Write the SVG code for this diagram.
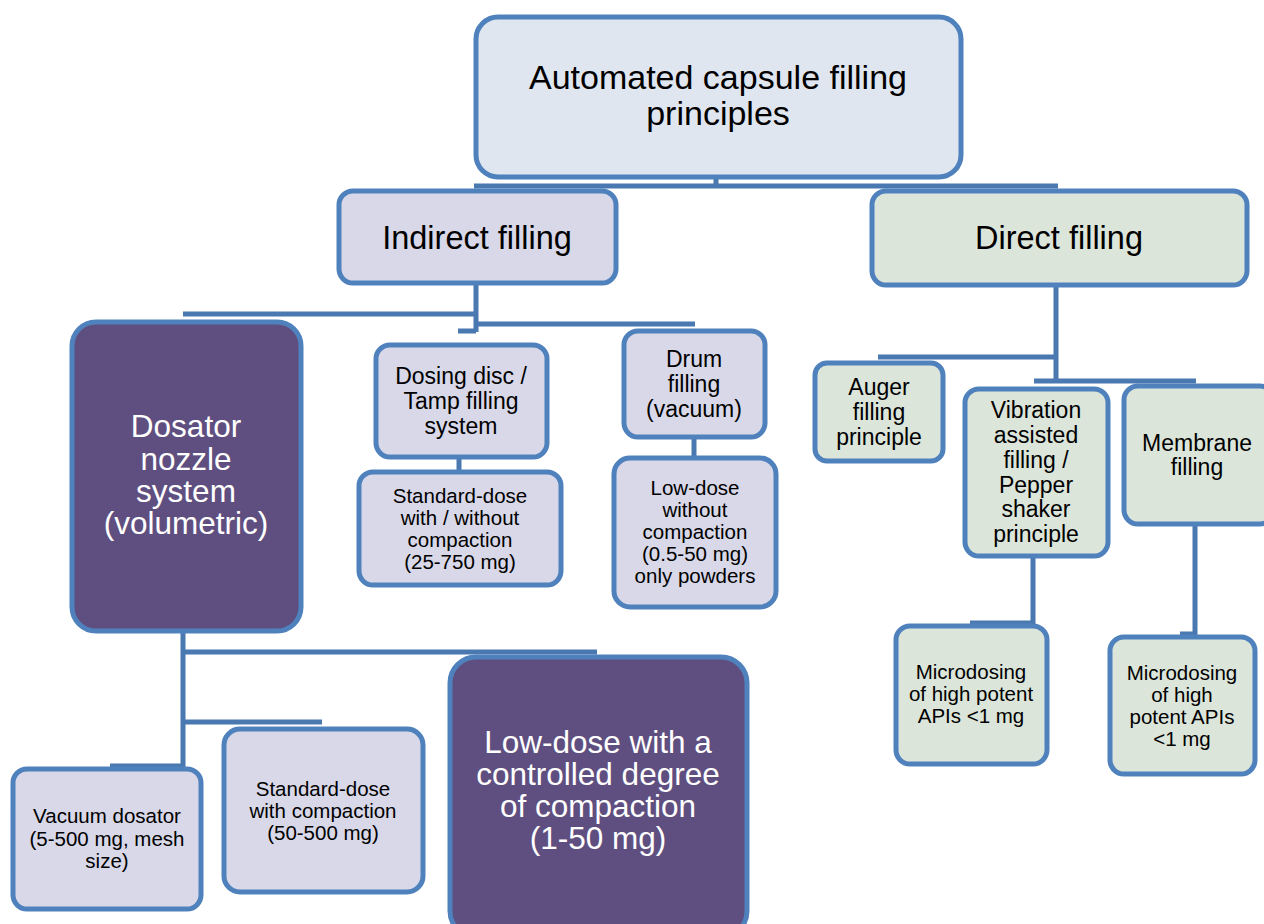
<svg xmlns="http://www.w3.org/2000/svg" width="1264" height="924" viewBox="0 0 1264 924">
<style>
.b{stroke:#4F81BD;stroke-width:5}
.lp{fill:#D8D8E8}
.tp{fill:#E0E6EF}
.gr{fill:#DCE5DA}
.pu{fill:#5F4F80}
.c{fill:none;stroke:#4A78B0;stroke-width:5}
text{font-family:"Liberation Sans",Arial,sans-serif;text-anchor:middle;fill:#000}
.w{fill:#fff}
.f32{font-size:32.5px}
.f34{font-size:34px}
.f31{font-size:31.5px}
.f23{font-size:23px}
.f20{font-size:20.5px}
</style>
<rect width="1264" height="924" fill="#fff"/>
<g id="connectors">
<path class="c" d="M716,178V187M474,186H1058"/>
<path class="c" d="M476,284V332M183,314H476M476,324H695M458,331H476"/>
<path class="c" d="M459,458V471"/>
<path class="c" d="M694,438V457"/>
<path class="c" d="M1056,286V382M878,357H1056M1034,381H1196"/>
<path class="c" d="M1033,557V623H970"/>
<path class="c" d="M1195,525V634H1180"/>
<path class="c" d="M183,632V766H110M183,652H597M183,722H322"/>
</g>
<g id="n-top"><rect class="b tp" x="476" y="17" width="485" height="160" rx="22"/>
<text class="f34"><tspan x="718" y="89">Automated capsule filling</tspan><tspan x="718" y="125">principles</tspan></text></g>
<g id="n-indirect"><rect class="b lp" x="339" y="191" width="277" height="92" rx="14"/>
<text class="f32" x="477" y="249">Indirect filling</text></g>
<g id="n-direct"><rect class="b gr" x="872" y="191" width="375" height="94" rx="14"/>
<text class="f32" x="1059" y="249">Direct filling</text></g>
<g id="n-dosator"><rect class="b pu" x="72" y="322" width="229" height="309" rx="24"/>
<text class="f31 w"><tspan x="186" y="437">Dosator</tspan><tspan x="186" y="470">nozzle</tspan><tspan x="186" y="502">system</tspan><tspan x="186" y="534">(volumetric)</tspan></text></g>
<g id="n-disc"><rect class="b lp" x="376" y="345" width="171" height="112" rx="14"/>
<text class="f23"><tspan x="461" y="384">Dosing disc /</tspan><tspan x="461" y="409">Tamp filling</tspan><tspan x="461" y="434">system</tspan></text></g>
<g id="n-drum"><rect class="b lp" x="624" y="331" width="141" height="106" rx="14"/>
<text class="f23"><tspan x="694" y="367">Drum</tspan><tspan x="694" y="392">filling</tspan><tspan x="694" y="417">(vacuum)</tspan></text></g>
<g id="n-std1"><rect class="b lp" x="359" y="472" width="202" height="113" rx="14"/>
<text class="f20"><tspan x="460" y="503">Standard-dose</tspan><tspan x="460" y="525">with / without</tspan><tspan x="460" y="547">compaction</tspan><tspan x="460" y="569">(25-750 mg)</tspan></text></g>
<g id="n-low1"><rect class="b lp" x="614" y="458" width="162" height="149" rx="16"/>
<text class="f20"><tspan x="695" y="495">Low-dose</tspan><tspan x="695" y="517">without</tspan><tspan x="695" y="539">compaction</tspan><tspan x="695" y="561">(0.5-50 mg)</tspan><tspan x="695" y="583">only powders</tspan></text></g>
<g id="n-auger"><rect class="b gr" x="815" y="363" width="128" height="98" rx="12"/>
<text class="f23"><tspan x="879" y="395">Auger</tspan><tspan x="879" y="420">filling</tspan><tspan x="879" y="445">principle</tspan></text></g>
<g id="n-vibration"><rect class="b gr" x="965" y="389" width="143" height="167" rx="14"/>
<text class="f23"><tspan x="1036" y="418">Vibration</tspan><tspan x="1036" y="443">assisted</tspan><tspan x="1036" y="468">filling /</tspan><tspan x="1036" y="493">Pepper</tspan><tspan x="1036" y="517">shaker</tspan><tspan x="1036" y="542">principle</tspan></text></g>
<g id="n-membrane"><rect class="b gr" x="1124" y="386" width="150" height="138" rx="14"/>
<text class="f23"><tspan x="1197" y="451">Membrane</tspan><tspan x="1197" y="475">filling</tspan></text></g>
<g id="n-micro1"><rect class="b gr" x="896" y="626" width="151" height="138" rx="14"/>
<text class="f20"><tspan x="971" y="679">Microdosing</tspan><tspan x="971" y="701">of high potent</tspan><tspan x="971" y="723">APIs &lt;1 mg</tspan></text></g>
<g id="n-micro2"><rect class="b gr" x="1110" y="637" width="145" height="137" rx="14"/>
<text class="f20"><tspan x="1182" y="680">Microdosing</tspan><tspan x="1182" y="702">of high</tspan><tspan x="1182" y="724">potent APIs</tspan><tspan x="1182" y="746">&lt;1 mg</tspan></text></g>
<g id="n-vacuum"><rect class="b lp" x="13" y="769" width="188" height="140" rx="14"/>
<text class="f20"><tspan x="107" y="823">Vacuum dosator</tspan><tspan x="107" y="846">(5-500 mg, mesh</tspan><tspan x="107" y="868">size)</tspan></text></g>
<g id="n-std2"><rect class="b lp" x="224" y="729" width="199" height="163" rx="16"/>
<text class="f20"><tspan x="323" y="796">Standard-dose</tspan><tspan x="323" y="818">with compaction</tspan><tspan x="323" y="840">(50-500 mg)</tspan></text></g>
<g id="n-low2"><rect class="b pu" x="450" y="657" width="297" height="280" rx="26"/>
<text class="f31 w"><tspan x="598" y="753">Low-dose with a</tspan><tspan x="598" y="785">controlled degree</tspan><tspan x="598" y="817">of compaction</tspan><tspan x="598" y="849">(1-50 mg)</tspan></text></g>
</svg>
